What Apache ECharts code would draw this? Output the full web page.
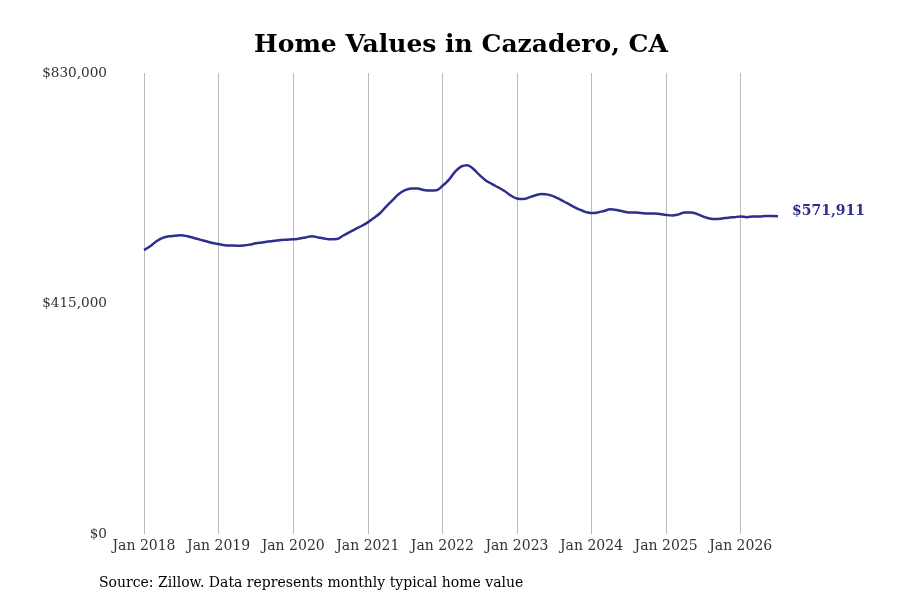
<!DOCTYPE html>
<html>
<head>
<meta charset="utf-8">
<script src="https://cdn.jsdelivr.net/npm/echarts@6/dist/echarts.min.js"></script>
<style>
html,body{margin:0;padding:0;background:#fff;}
#chart{width:900px;height:600px;}
</style>
</head>
<body>
<div id="chart"></div>
<script>
var titleText = 'Home Values in Cazadero, CA';
var sourceText = 'Source: Zillow. Data represents monthly typical home value';
var yTicks = [0, 415000, 830000];
var startYear = 2018;
var values = [
  511000, 518000, 527000, 533000, 536000, 537000, 538000, 536000, 533000, 530000, 527000, 524000,
  522000, 520000, 519500, 519000, 519500, 521000, 523500, 525000, 526500, 528000, 529500, 530000,
  530500, 532000, 534000, 536000, 534000, 532000, 530500, 531000, 537000, 543000, 549000, 554500,
  561000, 569000, 578000, 590000, 601000, 612000, 619000, 622000, 622000, 619500, 618500, 619000,
  626500, 637000, 651500, 661500, 664000, 657000, 646000, 636500, 630000, 624000, 617500, 609500,
  604000, 603000, 606000, 610000, 612000, 611000, 607500, 602000, 596000, 590000, 584500, 580000,
  578000, 579000, 581500, 584500, 583500, 581000, 579000, 579000, 578000, 577000, 577000, 576000,
  574500, 573500, 575500, 579000, 579000, 576000, 571500, 568000, 567000, 568000, 569500, 570500,
  571500, 570500, 571500, 571500, 572500, 572500, 571911
];
var monthNames = ['Jan','Feb','Mar','Apr','May','Jun','Jul','Aug','Sep','Oct','Nov','Dec'];
var categories = values.map(function(v, i){
  return monthNames[i % 12] + ' ' + (startYear + Math.floor(i / 12));
});
var lineColor = '#2e2e8c';
var serif = '"DejaVu Serif", serif';

var chart = echarts.init(document.getElementById('chart'));
chart.setOption({
  animation: false,
  backgroundColor: '#ffffff',
  title: [{
    text: titleText,
    left: 461, top: 33, textAlign: 'center', padding: 0,
    textStyle: {fontFamily: serif, fontWeight: 'bold', fontSize: 25, color: '#000'}
  }, {
    text: sourceText,
    left: 99, top: 576, padding: 0,
    textStyle: {fontFamily: serif, fontWeight: 'normal', fontSize: 14, color: '#000'}
  }],
  grid: {left: 144, top: 73, width: 634, height: 461, containLabel: false},
  xAxis: {
    type: 'category',
    data: categories,
    boundaryGap: false,
    axisLine: {show: false},
    axisTick: {show: false},
    axisLabel: {
      interval: 11,
      margin: 5,
      fontFamily: serif, fontSize: 14, color: '#333',
      formatter: function(v){ return v; }
    },
    splitLine: {show: true, interval: 11, lineStyle: {color: '#bbbbbb', width: 1}}
  },
  yAxis: {
    type: 'value',
    min: yTicks[0], max: yTicks[2], interval: yTicks[1],
    axisLine: {show: false},
    axisTick: {show: false},
    splitLine: {show: false},
    axisLabel: {
      margin: 37,
      padding: [5, 0, 0, 0],
      fontFamily: serif, fontSize: 13.6, color: '#333',
      formatter: function(v){ return '$' + v.toLocaleString('en-US'); }
    }
  },
  series: [{
    type: 'line',
    data: values,
    smooth: 0.4,
    symbol: 'none',
    lineStyle: {color: lineColor, width: 2.5},
    endLabel: {
      show: true,
      distance: 14,
      offset: [0, -5],
      fontFamily: serif, fontWeight: 'bold', fontSize: 14, color: lineColor,
      formatter: function(p){ return '$' + p.value.toLocaleString('en-US'); }
    }
  }]
});
</script>
</body>
</html>
